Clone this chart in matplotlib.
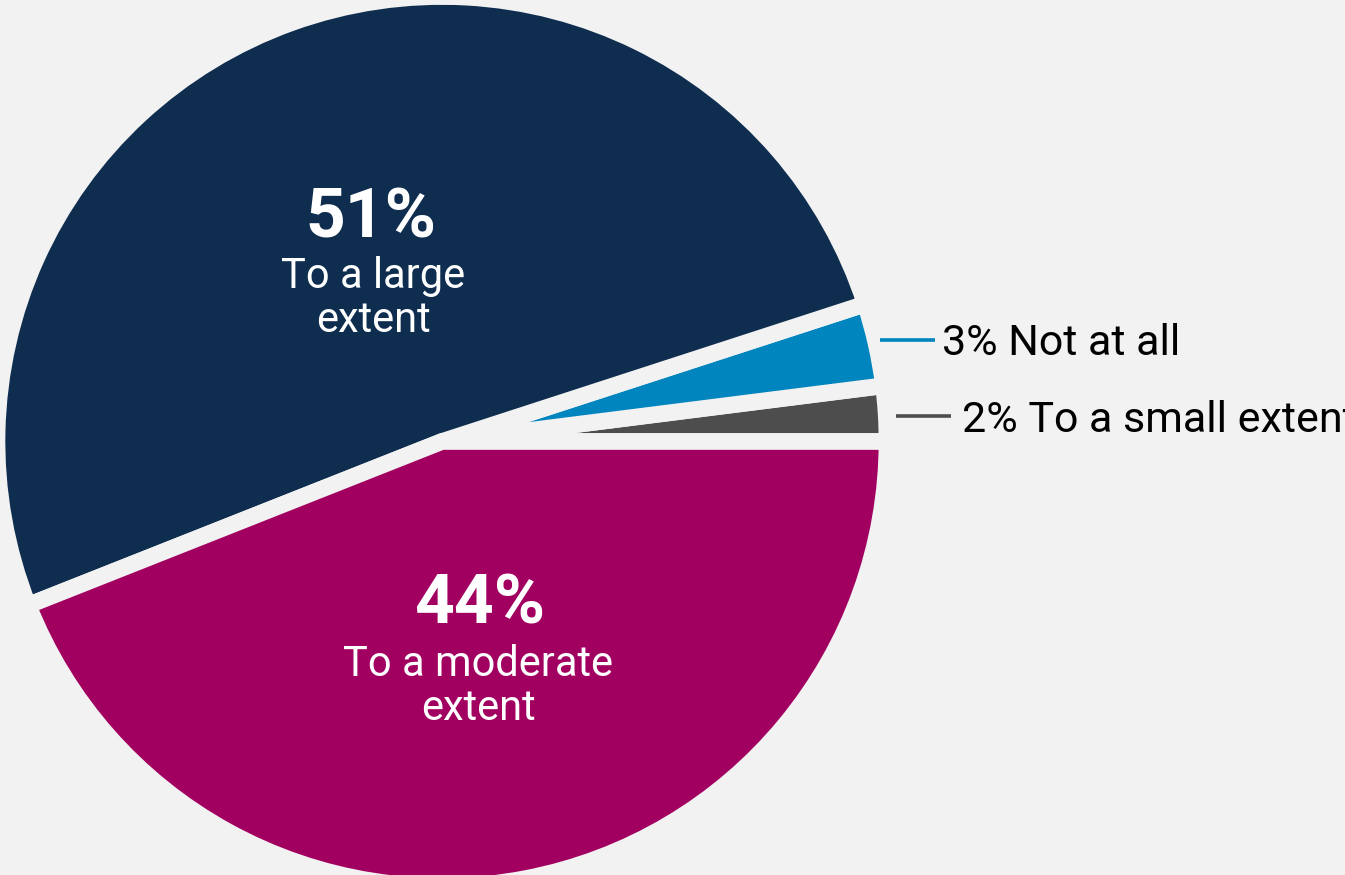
import matplotlib
matplotlib.use("Agg")
import matplotlib.pyplot as plt

# Survey shares, drawn counter-clockwise from 3 o'clock
shares = [2, 3, 51, 44]
answers = ["To a small extent", "Not at all", "To a large\nextent", "To a moderate\nextent"]
colors = ["#4d4d4d", "#0085bf", "#0f2d4f", "#a10060"]

BG = "#f2f2f2"
W, H = 1345, 875
FONT = "Roboto"

fig = plt.figure(figsize=(W / 100, H / 100), dpi=100, facecolor=BG)
ax = fig.add_axes([0, 0, 1, 1])
ax.set_facecolor(BG)

cx, cy = 442, H - 441.5
ax.pie(shares, colors=colors, startangle=0, counterclock=True,
       radius=445, center=(cx, cy),
       wedgeprops=dict(linewidth=12, edgecolor=BG))
ax.set_xlim(0, W)
ax.set_ylim(0, H)
ax.set_aspect("equal")
ax.axis("off")

def y(v):
    return H - v

# labels inside the two large slices
ax.text(371, y(238), f"{shares[2]}%", color="white", fontsize=50, fontweight="bold",
        ha="center", va="baseline", family=FONT)
ax.text(373, y(288), answers[2].split("\n")[0], color="white", fontsize=30,
        ha="center", va="baseline", family=FONT)
ax.text(373, y(332), answers[2].split("\n")[1], color="white", fontsize=30,
        ha="center", va="baseline", family=FONT)

ax.text(480, y(623), f"{shares[3]}%", color="white", fontsize=50, fontweight="bold",
        ha="center", va="baseline", family=FONT)
ax.text(478, y(676), answers[3].split("\n")[0], color="white", fontsize=30,
        ha="center", va="baseline", family=FONT)
ax.text(478, y(720), answers[3].split("\n")[1], color="white", fontsize=30,
        ha="center", va="baseline", family=FONT)

# callouts for the two thin slices
ax.plot([880, 935], [y(340), y(340)], color=colors[1], lw=2.6, solid_capstyle="butt")
ax.text(942, y(355), f"{shares[1]}% {answers[1]}", color="#000000", fontsize=31,
        ha="left", va="baseline", family=FONT)
ax.plot([896, 951], [y(416), y(416)], color=colors[0], lw=2.6, solid_capstyle="butt")
ax.text(962, y(432), f"{shares[0]}% {answers[0]}", color="#000000", fontsize=31,
        ha="left", va="baseline", family=FONT)

fig.savefig("out.png", dpi=100, facecolor=BG)
